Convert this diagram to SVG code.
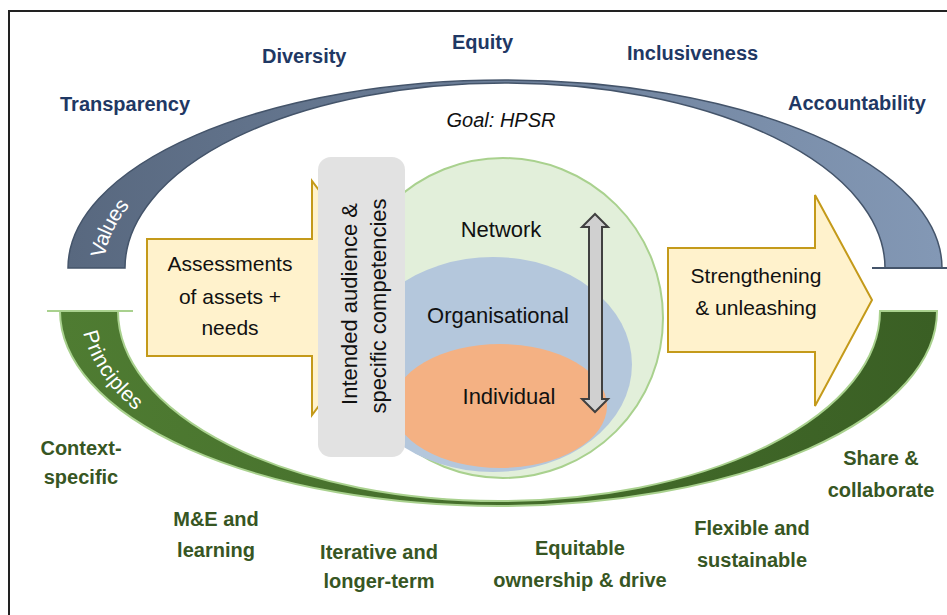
<svg xmlns="http://www.w3.org/2000/svg" width="947" height="615" viewBox="0 0 947 615">
<defs>
<linearGradient id="gBlue" x1="0" y1="0" x2="1" y2="0">
<stop offset="0" stop-color="#58687f"/>
<stop offset="1" stop-color="#8398b5"/>
</linearGradient>
<linearGradient id="gGreen" x1="0" y1="0" x2="1" y2="0">
<stop offset="0" stop-color="#4f7c32"/>
<stop offset="1" stop-color="#3a5f24"/>
</linearGradient>
<path id="pValues" d="M 96,268 A 408,186.5 0 0 1 914,268"/>
<path id="pPrinciples" d="M 89,311 A 410,192.5 0 0 0 909,311"/>
</defs>
<style>
.val{font-family:"Liberation Sans",Arial,sans-serif;font-weight:bold;font-size:20px;fill:#1f3864;}
.pri{font-family:"Liberation Sans",Arial,sans-serif;font-weight:bold;font-size:20px;fill:#375623;text-anchor:middle;}
.txt{font-family:"Liberation Sans",Arial,sans-serif;font-size:21px;fill:#111;text-anchor:middle;}
.lbl{font-family:"Liberation Sans",Arial,sans-serif;font-size:21px;fill:#ffffff;}
.arrow{fill:#fff2cc;stroke:#c49a1a;stroke-width:2;}
</style>
<rect x="0" y="0" width="947" height="615" fill="#ffffff"/>
<path d="M 9,615 L 9,11 L 947,11" fill="none" stroke="#222" stroke-width="2"/>

<g id="values-arc">
<path d="M 68,268 A 437,188 0 0 1 942,268 L 885,268 A 380,185 0 0 0 125,268 Z" fill="url(#gBlue)" stroke="#44546a" stroke-width="1.5"/>
<line x1="872" y1="268" x2="947" y2="268" stroke="#44546a" stroke-width="2"/>
<text class="lbl" dominant-baseline="central"><textPath href="#pValues" startOffset="43" text-anchor="middle">Values</textPath></text>
</g>

<g id="principles-arc">
<path d="M 60,311 A 438.5,195 0 0 0 937,311 L 880,311 A 381,190 0 0 1 118,311 Z" fill="url(#gGreen)" stroke="#a9d18e" stroke-width="2"/>
<line x1="47" y1="311" x2="133" y2="311" stroke="#a9d18e" stroke-width="2"/>
<text class="lbl" dominant-baseline="central"><textPath href="#pPrinciples" startOffset="65" text-anchor="middle">Principles</textPath></text>
</g>

<g id="values-labels">
<text class="val" x="60" y="111">Transparency</text>
<text class="val" x="262" y="63">Diversity</text>
<text class="val" x="452" y="49">Equity</text>
<text class="val" x="627" y="60">Inclusiveness</text>
<text class="val" x="788" y="110">Accountability</text>
</g>

<g id="goal">
<text x="501" y="127" style="font-family:'Liberation Sans',Arial,sans-serif;font-style:italic;font-size:20px;fill:#111;text-anchor:middle">Goal: HPSR</text>
</g>

<g id="assessments">
<path class="arrow" d="M 147,239 L 312,239 L 312,181 L 400,298 L 312,415 L 312,356 L 147,356 Z"/>
<text class="txt" x="230" y="271">Assessments</text>
<text class="txt" x="230" y="304">of assets +</text>
<text class="txt" x="230" y="335">needs</text>
</g>

<g id="levels">
<circle cx="503" cy="318" r="160" fill="#e2efda" stroke="#a9d18e" stroke-width="2"/>
<ellipse cx="493" cy="364.5" rx="139" ry="107.5" fill="#b4c7dc"/>
<ellipse cx="500" cy="406" rx="107" ry="62" fill="#f4b183"/>
<text class="txt" x="501" y="237" style="font-size:22px">Network</text>
<text class="txt" x="498" y="323" style="font-size:22px">Organisational</text>
<text class="txt" x="509" y="404" style="font-size:22px">Individual</text>
</g>

<g id="double-arrow">
<path d="M 595,214 L 608,227 L 602,227 L 602,399 L 608,399 L 595,412 L 582,399 L 589,399 L 589,227 L 582,227 Z" fill="#d0d0d0" stroke="#404040" stroke-width="2" stroke-linejoin="miter"/>
</g>

<g id="audience">
<rect x="318" y="157" width="87" height="300" rx="13" fill="#e2e2e2"/>
<text class="txt" transform="translate(357,304) rotate(-90)" style="font-size:22px">Intended audience &amp;</text>
<text class="txt" transform="translate(386,306) rotate(-90)" style="font-size:22px">specific competencies</text>
</g>

<g id="strengthening">
<path class="arrow" d="M 668,248 L 815,248 L 815,195 L 872,300 L 815,406 L 815,352 L 668,352 Z"/>
<text class="txt" x="756" y="283">Strengthening</text>
<text class="txt" x="756" y="315">&amp; unleashing</text>
</g>

<g id="principles-labels">
<text class="pri" x="81" y="455">Context-</text>
<text class="pri" x="81" y="484">specific</text>
<text class="pri" x="216" y="526">M&amp;E and</text>
<text class="pri" x="216" y="557">learning</text>
<text class="pri" x="379" y="559">Iterative and</text>
<text class="pri" x="379" y="588">longer-term</text>
<text class="pri" x="580" y="555">Equitable</text>
<text class="pri" x="580" y="587">ownership &amp; drive</text>
<text class="pri" x="752" y="535">Flexible and</text>
<text class="pri" x="752" y="567">sustainable</text>
<text class="pri" x="881" y="465">Share &amp;</text>
<text class="pri" x="881" y="497">collaborate</text>
</g>
<g id="connectors"></g>
</svg>
